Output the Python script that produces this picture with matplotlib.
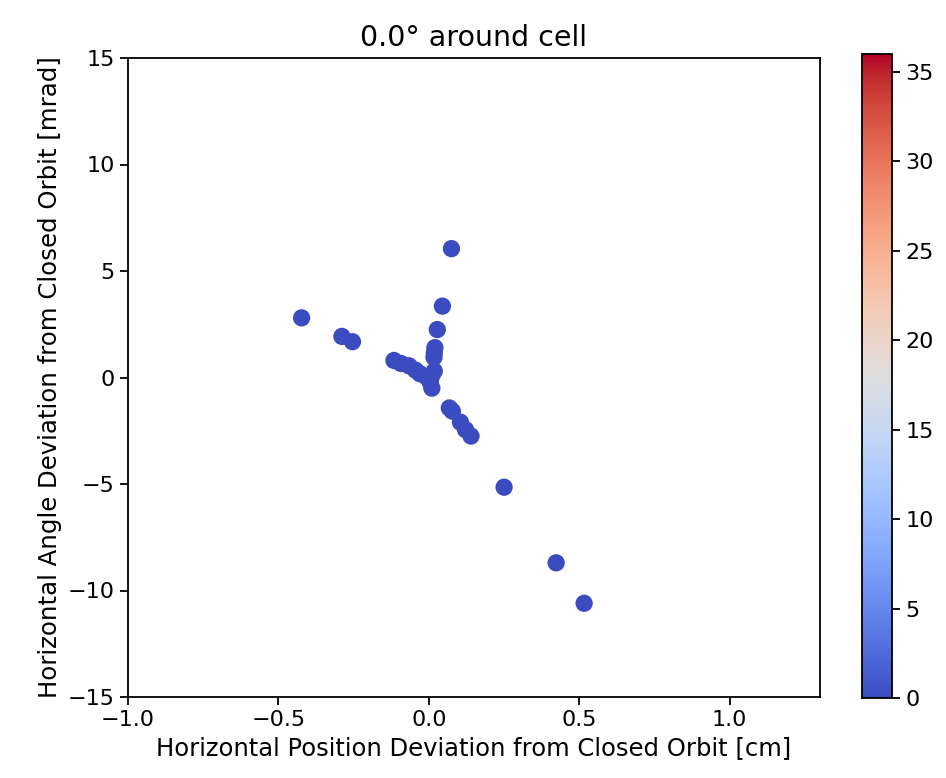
import numpy as np
import matplotlib
matplotlib.use("Agg")
import matplotlib.pyplot as plt

# deviations (x in cm, x' in mrad), colour value per point
x_dev = [0.075, 0.045, 0.028, 0.020, 0.018, 0.017, -0.423, -0.289, -0.254,
         -0.116, -0.093, -0.066, -0.045, -0.030, -0.010, 0.010, 0.018,
         0.005, 0.010, 0.068, 0.078, 0.105, 0.122, 0.140, 0.250, 0.423, 0.516]
xp_dev = [6.05, 3.35, 2.25, 1.40, 1.15, 0.95, 2.80, 1.93, 1.68,
          0.80, 0.66, 0.55, 0.35, 0.18, 0.05, 0.10, 0.30,
          -0.25, -0.50, -1.43, -1.58, -2.10, -2.45, -2.75, -5.15, -8.70, -10.60]
turns = [0] * len(x_dev)

cell_angle = 0.0

fig = plt.figure(figsize=(9.46, 7.78), dpi=100)
ax = fig.add_axes([128/946, 1-697/778, (820-128)/946, (697-58)/778])
cax = fig.add_axes([862/946, 1-698/778, 30/946, (698-54)/778])

sc = ax.scatter(x_dev, xp_dev, c=turns, cmap='coolwarm', vmin=0, vmax=36,
                s=155, linewidths=0)
ax.set_xlim(-1.0, 1.3)
ax.set_ylim(-15, 15)
ax.set_xticks([-1.0, -0.5, 0.0, 0.5, 1.0])
ax.set_title(f"{cell_angle}° around cell", fontsize=20.5, pad=9)
ax.set_xlabel("Horizontal Position Deviation from Closed Orbit [cm]", fontsize=17.5)
ax.set_ylabel("Horizontal Angle Deviation from Closed Orbit [mrad]", fontsize=17.6)
ax.tick_params(labelsize=16, length=6, width=1.3)
for sp in ax.spines.values():
    sp.set_linewidth(1.3)

cb = fig.colorbar(sc, cax=cax)
cb.ax.tick_params(labelsize=16, length=6, width=1.3)
cb.outline.set_linewidth(1.3)

fig.savefig("out.png", dpi=100)
